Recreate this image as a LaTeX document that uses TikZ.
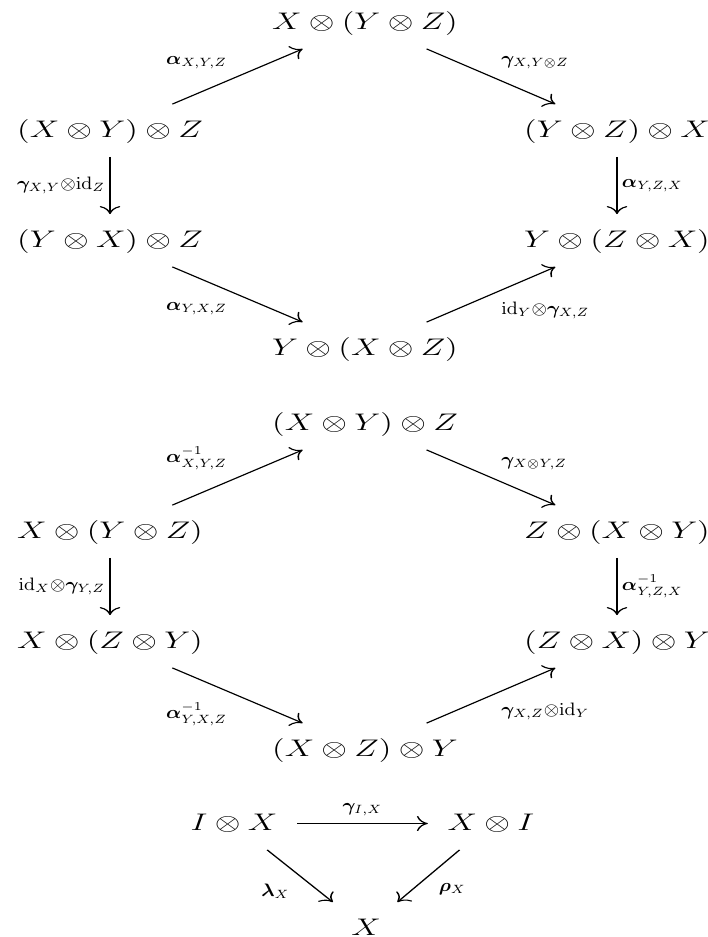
\documentclass[tikz,border=0pt]{standalone}
\usepackage{amsmath}
\usepackage{bm}
\usepackage{graphicx}
\usetikzlibrary{arrows.meta}
\newcommand{\lbl}[1]{\scalebox{0.78}[1]{$\scriptstyle#1$}}

\begin{document}
\begin{tikzpicture}[x=0.5pt,y=-0.5pt]
            \useasboundingbox (0,0) rectangle (707,937);
            \begin{scope}[transform canvas={xscale=1.375},x=0.363636pt,font=\fontsize{13}{16}\selectfont,
                obj/.style={anchor=base,inner sep=6.5pt,inner xsep=7pt,text height=9.75pt,text depth=3.25pt},
                arr/.style={-{Computer Modern Rightarrow[width=7.5pt,length=4pt]},line width=0.55pt},
                lab/.style={inner sep=3.5pt},
                side/.style={inner sep=3.5pt,inner xsep=1.5pt}]
                \node[obj] (a1) at (365,29) {$X\otimes(Y\otimes Z)$};
                \node[obj] (b1) at (110,137) {$(X\otimes Y)\otimes Z$};
                \node[obj] (c1) at (617,137) {$(Y\otimes Z)\otimes X$};
                \node[obj] (d1) at (110,247) {$(Y\otimes X)\otimes Z$};
                \node[obj] (e1) at (617,247) {$Y\otimes(Z\otimes X)$};
                \node[obj] (f1) at (365,355) {$Y\otimes(X\otimes Z)$};
                \draw[arr] (b1)--(a1) node[lab,midway,above left]{\lbl{\bm{\alpha}_{X,Y,Z}}};
                \draw[arr] (a1)--(c1) node[lab,midway,above right]{\lbl{\bm{\gamma}_{X,Y\otimes Z}}};
                \draw[arr] (b1)--(d1) node[side,midway,left]{\lbl{\bm{\gamma}_{X,Y}\otimes\mathrm{id}_Z}};
                \draw[arr] (c1)--(e1) node[side,midway,right]{\lbl{\bm{\alpha}_{Y,Z,X}}};
                \draw[arr] (d1)--(f1) node[lab,midway,below left]{\lbl{\bm{\alpha}_{Y,X,Z}}};
                \draw[arr] (f1)--(e1) node[lab,midway,below right]{\lbl{\mathrm{id}_Y\otimes\bm{\gamma}_{X,Z}}};
                \node[obj] (a2) at (365,430) {$(X\otimes Y)\otimes Z$};
                \node[obj] (b2) at (110,538) {$X\otimes(Y\otimes Z)$};
                \node[obj] (c2) at (617,538) {$Z\otimes(X\otimes Y)$};
                \node[obj] (d2) at (110,648) {$X\otimes(Z\otimes Y)$};
                \node[obj] (e2) at (617,648) {$(Z\otimes X)\otimes Y$};
                \node[obj] (f2) at (365,756) {$(X\otimes Z)\otimes Y$};
                \draw[arr] (b2)--(a2) node[lab,midway,above left]{\lbl{\bm{\alpha}^{-1}_{X,Y,Z}}};
                \draw[arr] (a2)--(c2) node[lab,midway,above right]{\lbl{\bm{\gamma}_{X\otimes Y,Z}}};
                \draw[arr] (b2)--(d2) node[side,midway,left]{\lbl{\mathrm{id}_X\otimes\bm{\gamma}_{Y,Z}}};
                \draw[arr] (c2)--(e2) node[side,midway,right]{\lbl{\bm{\alpha}^{-1}_{Y,Z,X}}};
                \draw[arr] (d2)--(f2) node[lab,midway,below left]{\lbl{\bm{\alpha}^{-1}_{Y,X,Z}}};
                \draw[arr] (f2)--(e2) node[lab,midway,below right]{\lbl{\bm{\gamma}_{X,Z}\otimes\mathrm{id}_Y}};
                \node[obj] (g) at (234,830) {$I\otimes X$};
                \node[obj] (h) at (491,830) {$X\otimes I$};
                \node[obj] (k) at (366,935) {$X$};
                \draw[arr] (g)--(h) node[lab,midway,above]{\lbl{\bm{\gamma}_{I,X}}};
                \draw[arr] (g)--(k) node[lab,midway,below left]{\lbl{\bm{\lambda}_X}};
                \draw[arr] (h)--(k) node[lab,midway,below right]{\lbl{\bm{\rho}_X}};
            \end{scope}
\end{tikzpicture}
\end{document}
